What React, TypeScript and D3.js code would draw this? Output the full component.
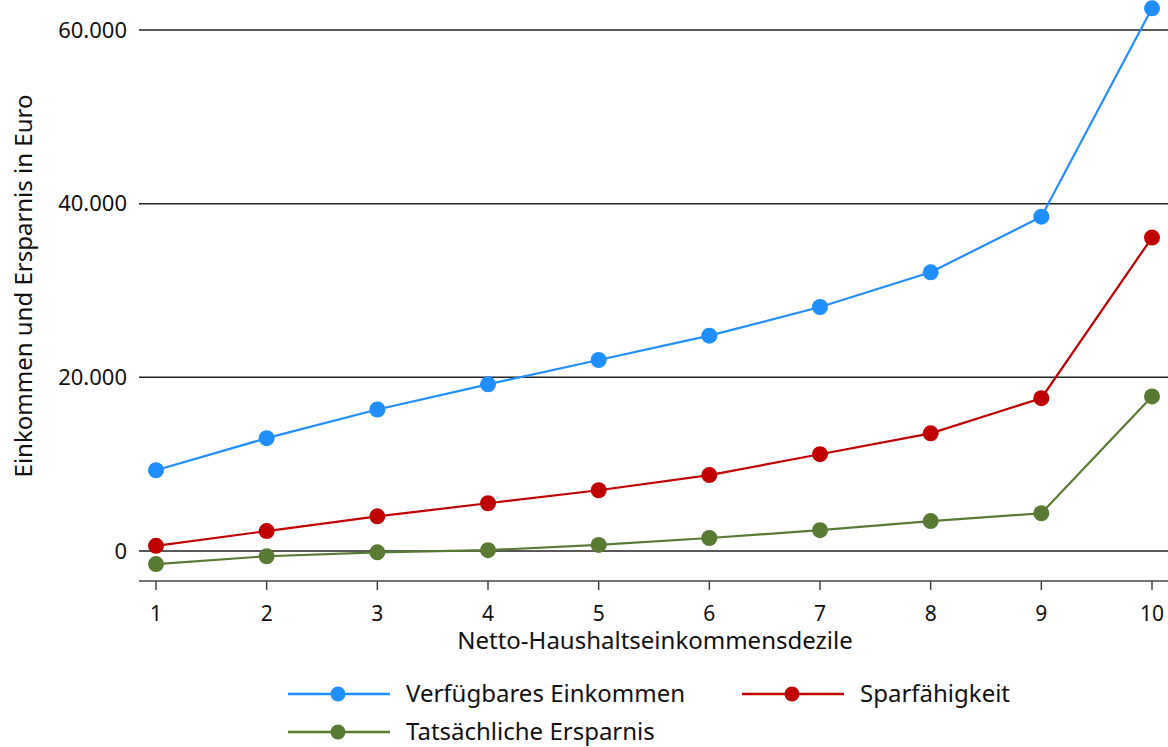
import React from "react";
import * as d3 from "d3";

const deciles = [1, 2, 3, 4, 5, 6, 7, 8, 9, 10];
const verfuegbar = [9300, 13000, 16300, 19200, 22000, 24800, 28100, 32100, 38500, 62500];
const sparfaehigkeit = [600, 2300, 4000, 5500, 7000, 8750, 11150, 13550, 17600, 36100];
const ersparnis = [-1500, -600, -150, 100, 700, 1500, 2400, 3450, 4350, 17800];
const yTicks = [0, 20000, 40000, 60000];
const seriesNames = ["Verfügbares Einkommen", "Sparfähigkeit", "Tatsächliche Ersparnis"];
const seriesColors = ["#1f8fff", "#c00000", "#587a33"];

const W = 1168;
const H = 747;
const FONT = "'Noto Sans', 'Open Sans', sans-serif";

export default function App() {
  const x = d3.scaleLinear().domain([1, 10]).range([156, 1152]);
  const y = d3.scaleLinear().domain([-3450, 60000]).range([581, 30]);
  const fmt = (v: number) => d3.format(",")(v).replace(/,/g, ".");
  const series = [verfuegbar, sparfaehigkeit, ersparnis];
  const line = d3
    .line<number>()
    .x((_, i) => x(deciles[i]))
    .y((d) => y(d));
  const plotLeft = 139;
  const plotRight = W;

  const legendItems = [
    { i: 0, lx: 288, ly: 694 },
    { i: 1, lx: 742, ly: 694 },
    { i: 2, lx: 288, ly: 732 },
  ];

  return (
    <svg
      width={W}
      height={H}
      style={{ position: "absolute", left: 0, top: 0, background: "#fff" }}
      fontFamily={FONT}
    >
      {yTicks.map((t) => (
        <g key={t}>
          <line x1={plotLeft} x2={plotRight} y1={y(t)} y2={y(t)} stroke="#222" strokeWidth={1.5} />
          <text x={127} y={y(t)} dy="0.35em" textAnchor="end" fontSize={22} fill="#111">
            {fmt(t)}
          </text>
        </g>
      ))}
      <line x1={plotLeft} x2={plotRight} y1={581} y2={581} stroke="#444" strokeWidth={1.5} />
      {deciles.map((d) => (
        <g key={d}>
          <line x1={x(d)} x2={x(d)} y1={581} y2={590} stroke="#444" strokeWidth={1.5} />
          <text x={x(d)} y={621} textAnchor="middle" fontSize={21} fill="#111">
            {d}
          </text>
        </g>
      ))}
      <text x={655} y={649} textAnchor="middle" fontSize={24} fill="#111">
        Netto-Haushaltseinkommensdezile
      </text>
      <text
        transform={`translate(32, 286) rotate(-90)`}
        textAnchor="middle"
        fontSize={24}
        fill="#111"
      >
        Einkommen und Ersparnis in Euro
      </text>
      {series.map((s, si) => (
        <g key={si}>
          <path d={line(s) || ""} fill="none" stroke={seriesColors[si]} strokeWidth={2.2} />
          {s.map((v, i) => (
            <circle key={i} cx={x(deciles[i])} cy={y(v)} r={8} fill={seriesColors[si]} />
          ))}
        </g>
      ))}
      {legendItems.map(({ i, lx, ly }) => (
        <g key={i}>
          <line x1={lx} x2={lx + 102} y1={ly} y2={ly} stroke={seriesColors[i]} strokeWidth={2.5} />
          <circle cx={lx + 50} cy={ly} r={7.5} fill={seriesColors[i]} />
          <text x={lx + 118} y={ly} dy="0.35em" fontSize={24} fill="#111">
            {seriesNames[i]}
          </text>
        </g>
      ))}
    </svg>
  );
}
